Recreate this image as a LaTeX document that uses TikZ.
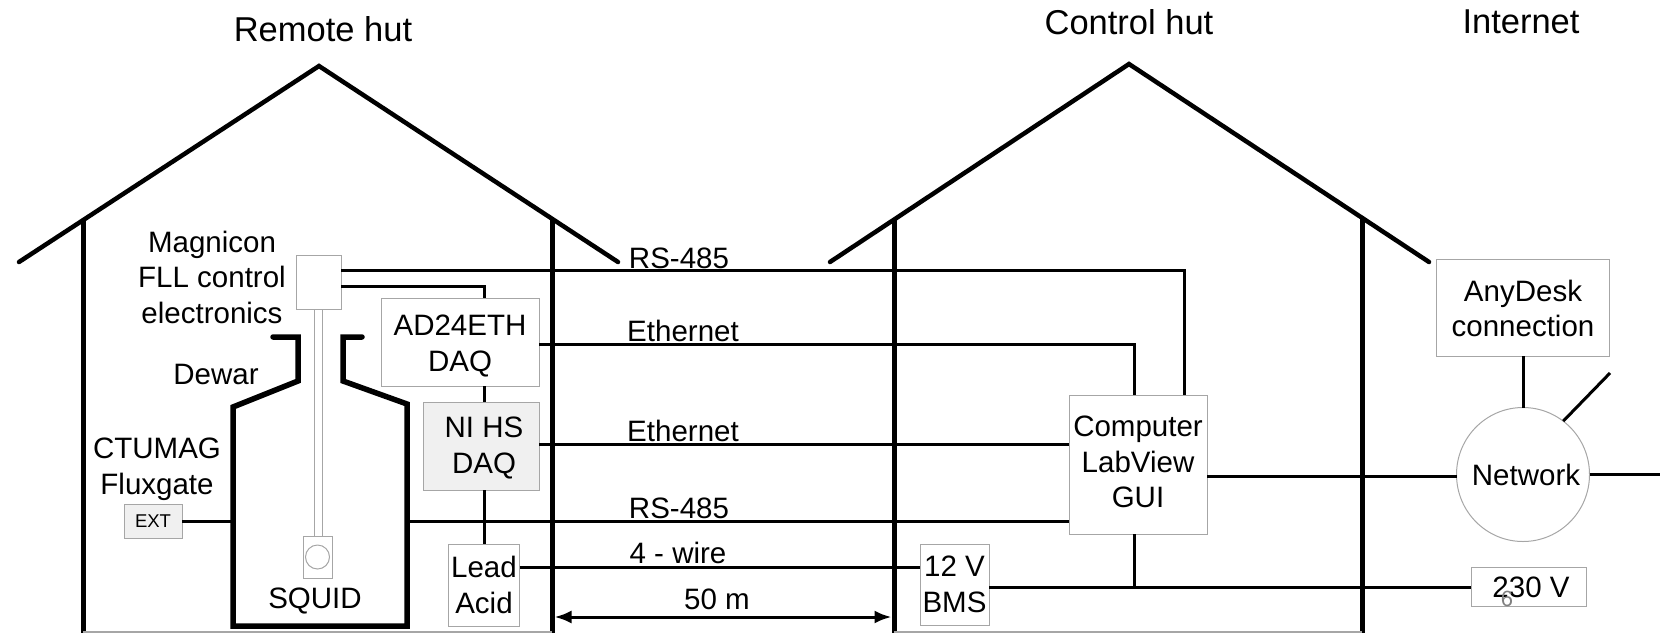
\documentclass[tikz,border=0pt]{standalone}
\usepackage{fontspec}
\setmainfont{Liberation Sans}
\usetikzlibrary{shapes.geometric,arrows.meta}

\begin{document}
\begin{tikzpicture}[
    x=1pt,y=-1pt,
    box/.style={draw=gray!70,line width=1pt,inner sep=0pt,outer sep=0pt,align=center,
                font=\fontsize{29.5}{35.5}\selectfont},
    txt/.style={inner sep=0pt,align=center,font=\fontsize{29.5}{35.5}\selectfont},
    title/.style={inner sep=0pt,font=\fontsize{34.5}{40}\selectfont},
    wire/.style={line width=3pt},
    wall/.style={line width=5pt},
    roof/.style={line width=4.5pt,line cap=round,line join=miter},
    rod/.style={draw=gray!70,line width=1pt},
    arrow/.style={{Latex[length=17pt,width=13pt]}-{Latex[length=17pt,width=13pt]},line width=3pt}]
    \useasboundingbox (0,0) rectangle (1660,633);
    % huts
    \draw[roof] (19,262) -- (319,66) -- (618,262);
    \draw[roof] (830,262) -- (1129,64) -- (1429,262);
    \draw[wall] (83,221) -- (83,633);
    \draw[wall] (552,219) -- (552,633);
    \draw[wall] (894,219) -- (894,633);
    \draw[wall] (1362,219) -- (1362,633);
    \draw[gray!70,line width=1.5pt] (83,632) -- (552,632);
    \draw[gray!70,line width=1.5pt] (894,632) -- (1362,632);
    \node[title] (remote) at (323,29) {Remote hut};
    \node[title] (control) at (1129,22) {Control hut};
    \node[title] (internet) at (1521,22) {Internet};
    % dewar
    \draw[line width=5.5pt,line cap=round,line join=miter] (273,337) -- (298,337) -- (298,381) -- (233,407)
        -- (233,626) -- (407,626) -- (407,404) -- (343,381) -- (343,337) -- (362,337);
    \coordinate (dewarL) at (233,521);
    \coordinate (dewarR) at (407,521);
    % boxes
    \node[box,minimum width=45pt,minimum height=54pt] (magnicon) at (318.5,282) {};
    \node[box,minimum width=29pt,minimum height=42pt] (squid) at (317.5,557) {};
    \node[draw=gray!70,circle,line width=1pt,inner sep=0pt,minimum size=24pt] (coil) at (317.5,557) {};
    \node[box,minimum width=158pt,minimum height=88pt,
          label={[txt,yshift=-4pt]center:AD24ETH\\DAQ}] (ad) at (460,342) {};
    \node[box,fill=gray!12,minimum width=116pt,minimum height=88pt,
          label={[txt,xshift=3pt,yshift=-2pt]center:NI HS\\DAQ}] (ni) at (481,446) {};
    \node[box,minimum width=71pt,minimum height=82pt] (lead) at (484,585) {Lead\\Acid};
    \node[box,fill=gray!12,minimum width=58pt,minimum height=34pt,font=\fontsize{18.5}{22}\selectfont] (ext) at (153,521) {EXT};
    \node[box,minimum width=69pt,minimum height=81pt] (bms) at (954.5,584.5) {12 V\\BMS};
    \node[box,minimum width=138pt,minimum height=139pt,
          label={[txt,yshift=2.5pt]center:Computer\\LabView\\GUI}] (computer) at (1138,464.5) {};
    \node[box,minimum width=173pt,minimum height=97pt,
          label={[txt,yshift=-1pt]center:AnyDesk\\connection}] (anydesk) at (1523,307.5) {};
    \node[draw=gray!70,ellipse,line width=1pt,inner sep=0pt,outer sep=0pt,minimum width=133pt,minimum height=134pt,
          label={[txt,xshift=3pt]center:Network}] (network) at (1523,474.5) {};
    \node[box,minimum width=115pt,minimum height=39pt,
          label={[txt,xshift=2.5pt]center:230 V}] (mains) at (1528.5,587) {};
    \node[inner sep=0pt,text=gray,font=\fontsize{22}{24}\selectfont] (stray) at (1507,599) {6};
    % labels
    \node[txt] (fll) at (212,277) {Magnicon\\FLL control\\electronics};
    \node[txt] (dewar) at (216,374) {Dewar};
    \node[txt] (ctumag) at (157,469.5) {CTUMAG\\Fluxgate};
    \node[txt] (squidlabel) at (315,601) {SQUID};
    \node[txt] (rsa) at (679,258) {RS-485};
    \node[txt] (etha) at (683,331) {Ethernet};
    \node[txt] (ethb) at (683,431) {Ethernet};
    \node[txt] (rsb) at (679,508) {RS-485};
    \node[txt] (four) at (678,553) {4 - wire};
    \node[txt] (dist) at (717,599) {50 m};
    % rod
    \draw[rod] ([xshift=-4.5pt]magnicon.south) -- ([xshift=-3.5pt]squid.north);
    \draw[rod] ([xshift=3.5pt]magnicon.south) -- ([xshift=4.5pt]squid.north);
    % wires
    \draw[wire] ([yshift=12pt]magnicon.east) -| ([xshift=46pt]computer.north);
    \draw[wire] ([yshift=-4pt]magnicon.east) -| ([xshift=24pt]ad.north);
    \draw[wire] ([yshift=-2pt]ad.east) -| ([xshift=-4pt]computer.north);
    \draw[wire] ([xshift=24pt]ad.south) -- ([xshift=3pt]ni.north);
    \draw[wire] ([xshift=3pt]ni.south) -- (lead.north);
    \draw[wire] ([yshift=2pt]ni.east) -- ([yshift=2pt]ni.east -| computer.west);
    \draw[wire] (ext.east) -- (dewarL);
    \draw[wire] (dewarR) -- (dewarR -| computer.west);
    \draw[wire] ([yshift=18pt]lead.east) -- ([yshift=18pt]lead.east -| bms.west);
    \draw[wire] ([yshift=-2.5pt]bms.east) -- (mains.west);
    \draw[wire] ([xshift=-4pt]computer.south) -- ([xshift=-4pt]computer.south |- mains.west);
    \draw[wire] ([yshift=-11.5pt]computer.east) -- ([yshift=-11.5pt]computer.east -| network.west);
    \draw[wire] (anydesk.south) -- (network.north);
    \coordinate (netout) at (1610,373);
    \coordinate (netend) at (1660,474.5);
    \draw[wire] (network.53) -- (netout);
    \draw[wire] (network.east) -- (netend);
    \coordinate (distL) at (554.5,617);
    \coordinate (distR) at (891.5,617);
    \draw[arrow] (distL) -- (distR);
\end{tikzpicture}
\end{document}
